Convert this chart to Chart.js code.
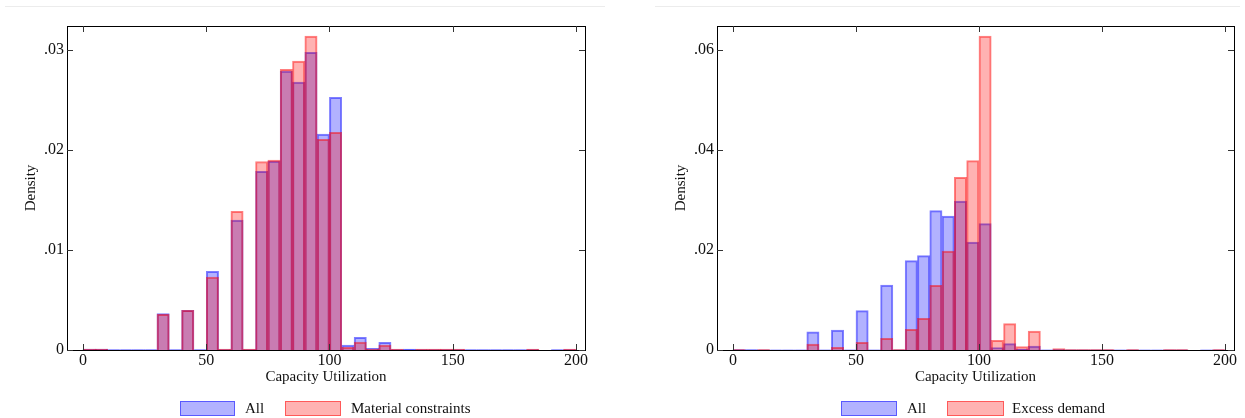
<!DOCTYPE html>
<html lang="en">
<head>
    <meta charset="UTF-8">
    <title>Capacity Utilization</title>
    <script src="https://cdn.jsdelivr.net/npm/chart.js"></script> <!--chart.js-->
    <style>
        body { margin: 0; background: #ffffff; width: 1245px; height: 418px; position: relative; overflow: hidden; font-family: "Liberation Serif", serif; }
        canvas { position: absolute; top: 0; }
        .topline { position: absolute; top: 6px; height: 0; border-top: 1px solid #ececec; z-index: 2; }
        .legend-box { position: absolute; top: 401px; height: 15px; box-sizing: border-box; border: 1.5px solid; }
        .legend-text { position: absolute; top: 399px; font-size: 15px; line-height: 18px; color: #111; white-space: nowrap; }
    </style>
</head>
<body>
    <canvas id="leftChart" width="600" height="418" style="left:0px;"></canvas>
    <canvas id="rightChart" width="595" height="418" style="left:650px;"></canvas>

    <div class="topline" style="left:5px; width:600px;"></div>
    <div class="topline" style="left:655px; width:585px;"></div>

    <!--legends under each panel-->
    <div class="legend-box" style="left:180px; width:55px; background:rgba(0,0,255,0.3); border-color:rgba(0,0,255,0.5);"></div>
    <div class="legend-text" style="left:245px;">All</div>
    <div class="legend-box" style="left:285px; width:56px; background:rgba(255,0,0,0.3); border-color:rgba(255,0,0,0.5);"></div>
    <div class="legend-text" style="left:351px;">Material constraints</div>

    <div class="legend-box" style="left:841px; width:56px; background:rgba(0,0,255,0.3); border-color:rgba(0,0,255,0.5);"></div>
    <div class="legend-text" style="left:907px;">All</div>
    <div class="legend-box" style="left:947px; width:57px; background:rgba(255,0,0,0.3); border-color:rgba(255,0,0,0.5);"></div>
    <div class="legend-text" style="left:1012px;">Excess demand</div>

    <script>
        // histogram bins (width 5), centers
        const binCenters = [2.5, 7.5, 12.5, 17.5, 22.5, 27.5, 32.5, 37.5, 42.5, 47.5,
                            52.5, 57.5, 62.5, 67.5, 72.5, 77.5, 82.5, 87.5, 92.5, 97.5,
                            102.5, 107.5, 112.5, 117.5, 122.5, 127.5, 132.5, 137.5, 142.5, 147.5,
                            152.5, 157.5, 162.5, 167.5, 172.5, 177.5, 182.5, 187.5, 192.5, 197.5];

        // density, all firms
        const allDensity = [0.0001, 0.0001, 0.00005, 0.00005, 0.00005, 0.00005, 0.00365, 0.00005, 0.00397, 0.00005,
                            0.00787, 0.00005, 0.0130, 0.00005, 0.01787, 0.0189, 0.0279, 0.0268, 0.02977, 0.0216,
                            0.02527, 0.0005, 0.00127, 0.00017, 0.00077, 0.00003, 0.00008, 0.00003, 0.00003, 0.00003,
                            0.00005, 0.00005, 0.00005, 0.00005, 0.00003, 0.00003, 0.00003, 0, 0.00005, 0.00003];

        // density, firms with material constraints
        const materialDensity = [0.0001, 0.0001, 0, 0, 0, 0, 0.00357, 0, 0.00397, 0,
                                 0.0073, 0.0001, 0.01387, 0.0001, 0.01883, 0.0190, 0.02807, 0.0289, 0.0314, 0.02107,
                                 0.02177, 0.00027, 0.0008, 0.0001, 0.0005, 0.0001, 0, 0.0001, 0.0001, 0.0001,
                                 0.0001, 0, 0, 0, 0, 0, 0.0001, 0, 0, 0.0001];

        // density, firms with excess demand
        const demandDensity = [0.0001, 0, 0.0001, 0, 0, 0, 0.0012, 0, 0.00053, 0,
                               0.00153, 0, 0.00233, 0.0001, 0.00413, 0.00633, 0.01293, 0.0198, 0.03453, 0.0379,
                               0.0628, 0.00193, 0.0053, 0.0007, 0.0038, 0, 0.0003, 0.0001, 0.0001, 0.0001,
                               0.0001, 0, 0.0001, 0, 0, 0.0001, 0.0001, 0, 0, 0.0001];

        const xTicks = [0, 50, 100, 150, 200];
        const leftYTicks = [0, 0.01, 0.02, 0.03];
        const rightYTicks = [0, 0.02, 0.04, 0.06];

        const serif = "'Liberation Serif', 'Times New Roman', serif";

        // white background under the plot
        const bgPlugin = {
            id: 'bg',
            beforeDraw: (chart) => {
                const ctx = chart.ctx;
                ctx.save();
                ctx.fillStyle = '#ffffff';
                ctx.fillRect(0, 0, chart.width, chart.height);
                ctx.restore();
            }
        };

        // box around plot area with inward ticks on all four sides
        const framePlugin = {
            id: 'frame',
            afterDraw: (chart) => {
                const ctx = chart.ctx;
                const a = chart.chartArea;
                const xs = chart.scales.x, ys = chart.scales.y;
                ctx.save();
                ctx.strokeStyle = '#000000';
                ctx.lineWidth = 1;
                ctx.strokeRect(Math.round(a.left) + 0.5, Math.round(a.top) + 0.5,
                               Math.round(a.right - a.left), Math.round(a.bottom - a.top));
                ctx.strokeStyle = '#333333';
                ctx.beginPath();
                xs.ticks.forEach(t => {
                    const px = Math.round(xs.getPixelForValue(t.value)) + 0.5;
                    ctx.moveTo(px, a.bottom); ctx.lineTo(px, a.bottom - 6);
                    ctx.moveTo(px, a.top); ctx.lineTo(px, a.top + 6);
                });
                ys.ticks.forEach(t => {
                    const py = Math.round(ys.getPixelForValue(t.value)) + 0.5;
                    ctx.moveTo(a.left, py); ctx.lineTo(a.left + 6, py);
                    ctx.moveTo(a.right, py); ctx.lineTo(a.right - 6, py);
                });
                ctx.stroke();
                ctx.restore();
            }
        };

        function makeData(values) {
            return binCenters.map((c, i) => ({ x: c, y: values[i] }));
        }

        function buildChart(canvasId, redValues, redLabel, yTicks, yMax, rightPad) {
            const ctx = document.getElementById(canvasId).getContext('2d');
            return new Chart(ctx, {
                type: 'bar',
                data: {
                    datasets: [
                        // order: higher order is drawn first, so red sits on top of blue
                        { label: 'All', order: 1, data: makeData(allDensity), backgroundColor: 'rgba(0,0,255,0.3)', borderColor: 'rgba(0,0,255,0.5)', borderWidth: 1.3 },
                        { label: redLabel, order: 0, data: makeData(redValues), backgroundColor: 'rgba(255,0,0,0.3)', borderColor: 'rgba(255,0,0,0.5)', borderWidth: 1.3 }
                    ]
                },
                options: {
                    responsive: false,
                    animation: false,
                    devicePixelRatio: 1,
                    layout: { padding: { top: 26, right: rightPad, bottom: 32, left: 0 } },
                    datasets: { bar: { grouped: false, barPercentage: 1, categoryPercentage: 1 } },
                    scales: {
                        x: {
                            type: 'linear', min: -6.5, max: 203.7, offset: false,
                            grid: { display: false, drawTicks: false, offset: false },
                            border: { display: false },
                            afterBuildTicks: (s) => { s.ticks = xTicks.map(v => ({ value: v })); },
                            afterFit: (s) => { s.height = 36; },
                            ticks: { color: '#111', padding: 1, maxRotation: 0, font: { family: serif, size: 16 } },
                            title: { display: true, text: 'Capacity Utilization', color: '#111', padding: { top: 0, bottom: 0 }, font: { family: serif, size: 15 } }
                        },
                        y: {
                            min: 0, max: yMax,
                            grid: { display: false, drawTicks: false },
                            border: { display: false },
                            afterBuildTicks: (s) => { s.ticks = yTicks.map(v => ({ value: v })); },
                            afterFit: (s) => { s.width = 67; },
                            ticks: {
                                color: '#111', padding: 3, font: { family: serif, size: 16 },
                                callback: (v) => v === 0 ? '0' : v.toFixed(2).replace(/^0/, '')
                            },
                            title: { display: true, text: 'Density', color: '#111', padding: { top: 22, bottom: 0 }, font: { family: serif, size: 15 } }
                        }
                    },
                    plugins: {
                        legend: { display: false },
                        tooltip: { enabled: false }
                    }
                },
                plugins: [bgPlugin, framePlugin]
            });
        }

        buildChart('leftChart', materialDensity, 'Material constraints', leftYTicks, 0.0324, 15);
        buildChart('rightChart', demandDensity, 'Excess demand', rightYTicks, 0.0648, 11);
    </script>
</body>
</html>
